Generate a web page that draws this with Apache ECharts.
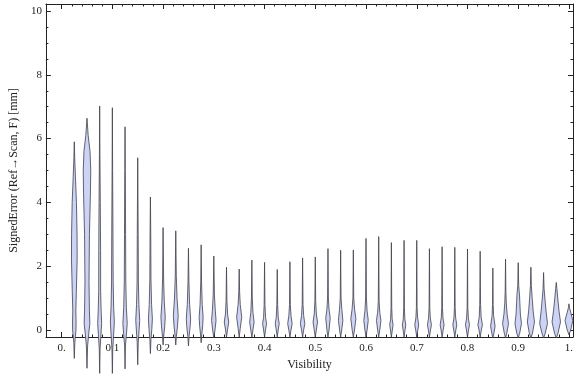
<!DOCTYPE html>
<html>
<head>
<meta charset="utf-8">
<script src="https://cdn.jsdelivr.net/npm/echarts@6/dist/echarts.min.js"></script>
<style>
  html,body{margin:0;padding:0;background:#fff;}
  #chart{width:576px;height:377px;}
</style>
</head>
<body>
<div id="chart"></div>
<script>
// ==================== DATA ====================
const visibility = [0.025,0.05,0.075,0.1,0.125,0.15,0.175,0.2,0.225,0.25,
  0.275,0.3,0.325,0.35,0.375,0.4,0.425,0.45,0.475,0.5,
  0.525,0.55,0.575,0.6,0.625,0.65,0.675,0.7,0.725,0.75,
  0.775,0.8,0.825,0.85,0.875,0.9,0.925,0.95,0.975,1.0];

// max / min signed error per bin [mm]
const errMax = [5.90,6.64,7.02,6.97,6.37,5.40,4.17,3.21,3.11,2.56,
  2.67,2.32,1.97,1.91,2.19,2.12,1.90,2.14,2.26,2.29,
  2.55,2.50,2.51,2.87,2.93,2.74,2.81,2.81,2.55,2.61,
  2.59,2.54,2.47,1.94,2.22,2.11,1.97,1.80,1.49,0.82];
const errMin = [-0.89,-1.20,-1.36,-1.36,-1.22,-1.09,-0.74,-0.47,-0.47,-0.50,
  -0.40,-0.25,-0.22,-0.22,-0.22,-0.22,-0.22,-0.22,-0.22,-0.22,
  -0.22,-0.22,-0.22,-0.22,-0.22,-0.22,-0.22,-0.22,-0.22,-0.22,
  -0.22,-0.22,-0.22,-0.25,-0.25,-0.25,-0.25,-0.25,-0.25,-0.15];

// density outline per bin: [error, half width (x0.001 visibility)]
const density = [
  [[-0.4,1.0],[0,3.3],[0.25,3.5],[0.6,3.0],[1.2,4.0],[2.2,5.6],[3.0,5.4],[4.0,4.2],[4.8,2.2],[5.4,0.8]],
  [[-0.5,1.2],[-0.1,3.5],[0.2,5.6],[0.6,4.8],[1.5,4.0],[3.0,4.8],[4.3,6.8],[5.0,7.4],[5.6,6.0],[6.1,2.3]],
  [[-0.6,0.8],[-0.15,2.5],[0.2,3.9],[0.6,2.9],[1.2,1.9],[2.5,1.8],[4.0,1.2],[5.5,0.5]],
  [[-0.6,0.8],[-0.1,2.7],[0.25,3.9],[0.7,2.6],[1.5,1.6],[3.0,1.2],[5.0,0.5]],
  [[-0.5,0.8],[-0.1,2.9],[0.2,4.3],[0.7,2.6],[1.5,1.5],[3.0,1.1],[5.0,0.5]],
  [[-0.4,1.0],[0,2.7],[0.3,3.9],[0.8,2.3],[1.5,1.3],[3.0,0.9]],
  [[-0.3,1.1],[0.05,2.9],[0.35,3.9],[0.8,2.3],[1.6,1.1],[3.0,0.7]],
  [[-0.2,1.2],[0.1,3.1],[0.4,4.3],[0.9,2.3],[1.6,1.0]],
  [[-0.2,1.2],[0.1,3.3],[0.45,4.8],[1.0,2.5],[1.7,1.0]],
  [[-0.2,1.2],[0.1,3.3],[0.35,4.3],[0.8,2.3],[1.5,0.9]],
  [[-0.15,1.2],[0.15,3.1],[0.4,3.9],[0.8,2.1],[1.5,0.8]],
  [[0,2.3],[0.3,4.4],[0.6,2.9],[1.1,1.2]],
  [[0,1.9],[0.25,4.4],[0.5,2.1],[0.9,0.9]],
  [[0.05,2.1],[0.4,5.0],[0.8,2.1],[1.2,0.8]],
  [[0,2.1],[0.25,4.4],[0.55,2.1],[1.0,0.8]],
  [[0,1.9],[0.2,3.9],[0.4,1.9],[0.8,0.8]],
  [[0,1.9],[0.2,3.9],[0.4,1.9],[0.8,0.8]],
  [[0,2.1],[0.2,4.4],[0.45,2.1],[0.8,0.8]],
  [[0,2.1],[0.2,4.4],[0.45,2.1],[0.8,0.8]],
  [[0,2.1],[0.25,4.4],[0.5,2.1],[0.9,0.8]],
  [[0,2.1],[0.37,4.4],[0.65,2.1],[1.0,0.8]],
  [[0,2.1],[0.3,4.4],[0.65,2.3],[1.0,0.8]],
  [[0,2.3],[0.35,5.0],[0.65,2.5],[1.0,0.8]],
  [[0,2.1],[0.3,4.4],[0.6,2.1],[1.0,0.8]],
  [[0,2.1],[0.3,4.4],[0.55,2.1],[0.9,0.8]],
  [[0,1.9],[0.16,3.3],[0.35,1.5],[0.7,0.7]],
  [[0,1.9],[0.16,3.3],[0.35,1.5],[0.7,0.7]],
  [[0,2.1],[0.16,3.9],[0.38,1.7],[0.7,0.7]],
  [[0,2.1],[0.16,3.9],[0.38,1.7],[0.7,0.7]],
  [[0,2.1],[0.16,3.9],[0.38,1.7],[0.7,0.7]],
  [[0,2.1],[0.16,3.9],[0.38,1.7],[0.7,0.7]],
  [[0,2.1],[0.16,3.9],[0.38,1.7],[0.7,0.7]],
  [[0,2.3],[0.16,4.4],[0.4,1.9],[0.8,0.8]],
  [[-0.1,2.1],[0.12,4.4],[0.45,1.5],[0.8,0.6]],
  [[-0.1,2.5],[0.2,5.8],[0.5,3.1],[0.85,1.5],[1.2,0.7]],
  [[-0.1,2.9],[0.2,6.4],[0.5,4.2],[0.9,3.1],[1.1,2.5],[1.4,0.9]],
  [[-0.1,3.1],[0.25,7.0],[0.6,4.4],[1.0,2.5],[1.4,0.9]],
  [[-0.1,3.3],[0.2,7.7],[0.6,4.8],[1.0,2.5],[1.3,1.0]],
  [[-0.1,3.5],[0.25,8.3],[0.6,5.4],[1.0,2.9],[1.3,1.2]],
  [[0,3.5],[0.3,7.7],[0.55,3.5],[0.7,1.0]]
];

// ticks
const xMajor = [0,0.1,0.2,0.3,0.4,0.5,0.6,0.7,0.8,0.9,1.0];
const xLabels = ['0.','0.1','0.2','0.3','0.4','0.5','0.6','0.7','0.8','0.9','1.'];
const xMinor = [0.02,0.04,0.06,0.08,0.12,0.14,0.16,0.18,0.22,0.24,0.26,0.28,0.32,0.34,0.36,0.38,
  0.42,0.44,0.46,0.48,0.52,0.54,0.56,0.58,0.62,0.64,0.66,0.68,0.72,0.74,0.76,0.78,
  0.82,0.84,0.86,0.88,0.92,0.94,0.96,0.98];
const yMajor = [0,2,4,6,8,10];
const yMinor = [0.5,1,1.5,2.5,3,3.5,4.5,5,5.5,6.5,7,7.5,8.5,9,9.5];

// ==================== CHART ====================
const FONT='"Liberation Serif","DejaVu Serif",serif';
const frameC='#222', textC='#222';
const X_MIN=-0.031, X_MAX=1.008, Y_MIN=-0.22, Y_MAX=10.22;

function xAx(pos, ticks, len, opts){
  return Object.assign({type:'value',min:X_MIN,max:X_MAX,position:pos,
    axisLine:{show:true,onZero:false,lineStyle:{color:frameC,width:1}},
    axisTick:{show:true,inside:true,length:len,customValues:ticks,lineStyle:{color:frameC,width:1}},
    axisLabel:{show:false},splitLine:{show:false}},opts||{});
}
function yAx(pos, ticks, len, opts){
  return Object.assign({type:'value',min:Y_MIN,max:Y_MAX,position:pos,
    axisLine:{show:true,onZero:false,lineStyle:{color:frameC,width:1}},
    axisTick:{show:true,inside:true,length:len,customValues:ticks,lineStyle:{color:frameC,width:1}},
    axisLabel:{show:false},splitLine:{show:false}},opts||{});
}
const noLine={show:false,onZero:false};

function renderViolin(params, api){
  const i=params.dataIndex, v=visibility[i], k=density[i];
  const right=[[v,errMin[i]]], left=[];
  k.forEach(p=>{ right.push([v+p[1]*0.001,p[0]]); left.unshift([v-p[1]*0.001,p[0]]); });
  right.push([v,errMax[i]]);
  const pts=right.concat(left).map(p=>api.coord(p));
  return {type:'polygon',shape:{points:pts},
    style:{fill:'#ccd3f6',stroke:'rgba(65,65,75,0.8)',lineWidth:1}};
}

const chart=echarts.init(document.getElementById('chart'),null,{renderer:'canvas'});
chart.setOption({
  backgroundColor:'#fff',
  animation:false,
  grid:{left:36,right:2,top:4,bottom:40},
  xAxis:[
    xAx('bottom',xMajor,5,{
      axisLabel:{show:true,customValues:xMajor,margin:6,color:textC,fontFamily:FONT,fontSize:11,
        formatter:val=>{const j=xMajor.findIndex(t=>Math.abs(t-val)<1e-6);return j<0?'':xLabels[j];}},
      name:'Visibility',nameLocation:'middle',nameGap:22,
      nameTextStyle:{color:textC,fontFamily:FONT,fontSize:12}}),
    xAx('top',xMajor,5),
    xAx('bottom',xMinor,2.5,{axisLine:noLine}),
    xAx('top',xMinor,2.5,{axisLine:noLine})
  ],
  yAxis:[
    yAx('left',yMajor,5,{
      axisLabel:{show:true,customValues:yMajor,margin:4,color:textC,fontFamily:FONT,fontSize:11},
      name:'SignedError (Ref\u2192Scan, F) [mm]',nameLocation:'middle',nameGap:21,
      nameTextStyle:{color:textC,fontFamily:FONT,fontSize:12}}),
    yAx('right',yMajor,5),
    yAx('left',yMinor,2.5,{axisLine:noLine}),
    yAx('right',yMinor,2.5,{axisLine:noLine})
  ],
  series:[{
    type:'custom',
    xAxisIndex:0,yAxisIndex:0,
    clip:false,
    renderItem:renderViolin,
    encode:{x:0,y:[1,2]},
    data:visibility.map((v,i)=>[v,errMax[i],errMin[i]])
  }]
});
</script>
</body>
</html>
